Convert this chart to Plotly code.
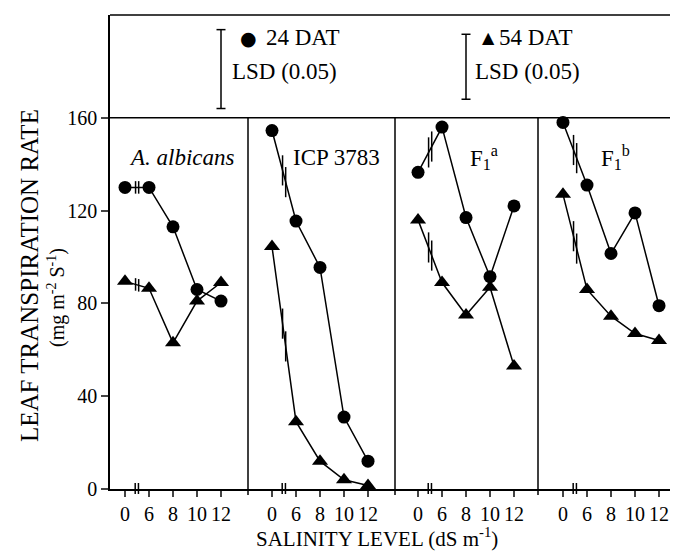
import plotly.graph_objects as go

# ---------------- data ----------------
panel_names = ["<i>A. albicans</i>", "ICP 3783", "F<sub>1</sub><sup>a</sup>", "F<sub>1</sub><sup>b</sup>"]
salinity = [0, 6, 8, 10, 12]
salinity_labels = ["0", "6", "8", "10", "12"]
y_ticks = [0, 40, 80, 120, 160]

albicans_24 = [130, 130, 113, 86, 81]
albicans_54 = [89.5, 86.5, 63, 81, 89]
icp_24 = [154.5, 115.5, 95.5, 31, 12]
icp_54 = [104.5, 29, 12, 4, 1.5]
f1a_24 = [136.5, 156, 117, 91.5, 122]
f1a_54 = [116, 89, 75, 87, 53]
f1b_24 = [158, 131, 101.5, 119, 79]
f1b_54 = [127, 86, 74.5, 67, 64]

lsd_24 = 34
lsd_54 = 28

series_24 = [albicans_24, icp_24, f1a_24, f1b_24]
series_54 = [albicans_54, icp_54, f1a_54, f1b_54]

# ---------------- layout geometry ----------------
OFF = 8                      # page body margin of the html page
W, H = 678 - OFF, 553 - OFF
ML, MR, MT = 110 - OFF, 0, 15 - OFF
PH = 474
MB = H - MT - PH
PW = W - ML - MR
PX_PER_UNIT = 2.32
YMAX = PH / PX_PER_UNIT
edges_px = [110, 248, 395, 538, 678]          # panel edges, in page pixels
domains = [[(edges_px[i] - 110) / PW, (edges_px[i + 1] - 110) / PW] for i in range(4)]
x_ranges = [[2.75, 14.25], [2.0, 14.25], [2.08, 14.0], [1.92, 13.58]]

FONT = "Liberation Serif"


def px_x(px):
    return (px - OFF - ML) / PW


def px_y(py):
    return (H - MB - (py - OFF)) / PH


def brk(s):
    # broken axis: 0 is drawn just before 6
    return 4 if s == 0 else s


xpos = [brk(s) for s in salinity]

fig = go.Figure()
shapes = []
line_style = dict(color="black", width=1.5)

for i in range(4):
    xa = "x" if i == 0 else f"x{i + 1}"
    for vals, sym, size in [(series_24[i], "circle", 13), (series_54[i], "triangle-up", 14)]:
        fig.add_trace(go.Scatter(
            x=xpos, y=vals, xaxis=xa, yaxis="y", mode="lines+markers",
            line=dict(color="black", width=1.5),
            marker=dict(symbol=sym, size=size, color="black"),
            showlegend=False, hoverinfo="skip"))
        # break marks on the 0 -> 6 segment
        y0, y6 = vals[0], vals[1]
        h = 2.7 if abs(y6 - y0) < 10 else 6.5
        for bx in (4.88, 5.14):
            yl = y0 + (y6 - y0) * (bx - 4) / 2
            shapes.append(dict(type="line", xref=xa, yref="y", x0=bx, x1=bx,
                               y0=yl - h, y1=yl + h, line=line_style))
    # break marks on the x axis
    for bx in (4.85, 5.12):
        shapes.append(dict(type="line", xref=xa, yref="paper", x0=bx, x1=bx,
                           y0=-5 / PH, y1=6 / PH, line=line_style))

# frame lines
shapes.append(dict(type="line", xref="paper", yref="paper", x0=0, x1=1, y0=1, y1=1, line=line_style))
shapes.append(dict(type="line", xref="paper", yref="y", x0=0, x1=1, y0=160, y1=160, line=line_style))
for i in range(1, 4):
    shapes.append(dict(type="line", xref="paper", yref="paper", x0=domains[i][0], x1=domains[i][0],
                       y0=-6 / PH, y1=160 / YMAX, line=line_style))

# LSD bars
for bx_px, bottom, lsd in [(221, 164, lsd_24), (466, 168, lsd_54)]:
    xp = px_x(bx_px)
    cap = 4.5 / PW
    shapes.append(dict(type="line", xref="paper", yref="y", x0=xp, x1=xp, y0=bottom, y1=bottom + lsd, line=line_style))
    for yy in (bottom, bottom + lsd):
        shapes.append(dict(type="line", xref="paper", yref="y", x0=xp - cap, x1=xp + cap, y0=yy, y1=yy, line=line_style))

annotations = []
label_pos = [0.52, 0.60, 0.62, 0.55]
for i in range(4):
    xa = "x" if i == 0 else f"x{i + 1}"
    annotations.append(dict(text=panel_names[i], xref=f"{xa} domain", yref="y", x=label_pos[i], y=143,
                            xanchor="center", yanchor="middle", showarrow=False,
                            font=dict(family=FONT, size=23, color="black")))


def note(text, x, y, size=22, family=FONT, xanchor="center", angle=0):
    return dict(text=text, xref="paper", yref="paper", x=px_x(x), y=px_y(y), xanchor=xanchor,
                yanchor="middle", textangle=angle, showarrow=False,
                font=dict(family=family, size=size, color="black"))


annotations += [
    note("\u25cf", 248, 38, size=19, family="DejaVu Sans"),
    note("24 DAT", 264, 38, size=23, xanchor="left"),
    note("LSD (0.05)", 230, 72, size=23, xanchor="left"),
    note("\u25b2", 488, 38, size=16, family="DejaVu Sans"),
    note("54 DAT", 497, 38, size=23, xanchor="left"),
    note("LSD (0.05)", 473, 72, size=23, xanchor="left"),
    note("SALINITY LEVEL (dS m<sup>-1</sup>)", 377, 537, size=21),
    note("LEAF TRANSPIRATION RATE", 29, 276, size=25, angle=-90),
    note("(mg m<sup>-2</sup> S<sup>-1</sup>)", 57, 298, size=20, angle=-90),
]

layout = dict(
    width=W, height=H, margin=dict(l=ML, r=MR, t=MT, b=MB, autoexpand=False),
    paper_bgcolor="white", plot_bgcolor="white", showlegend=False,
    font=dict(family=FONT, color="black"),
    yaxis=dict(domain=[0, 1], range=[0, YMAX], anchor="x", tickvals=y_ticks, ticks="outside", ticklen=7,
               tickwidth=1.5, showline=True, linecolor="black", linewidth=1.5, showgrid=False, zeroline=False,
               tickfont=dict(family=FONT, size=20, color="black")),
    shapes=shapes, annotations=annotations,
)
for i in range(4):
    key = "xaxis" if i == 0 else f"xaxis{i + 1}"
    layout[key] = dict(domain=domains[i], range=x_ranges[i], anchor="y", tickvals=xpos, ticktext=salinity_labels,
                       ticks="outside", ticklen=6, tickwidth=1.5, showline=True, linecolor="black", linewidth=1.5,
                       showgrid=False, zeroline=False, tickfont=dict(family=FONT, size=20, color="black"))

fig.update_layout(**layout)
fig.write_html("out.html")
